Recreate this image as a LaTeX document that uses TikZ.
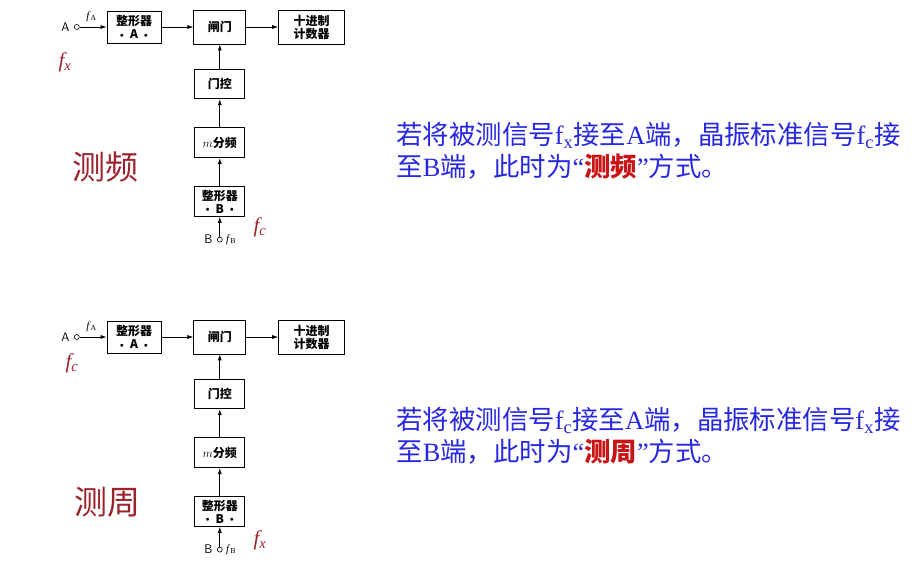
\documentclass[tikz,border=0pt]{standalone}
\usepackage{fontspec}
\setmainfont{Liberation Serif}
\newfontfamily\cjk{Noto Sans CJK SC}
\usetikzlibrary{positioning,arrows.meta}
\definecolor{txtblue}{RGB}{40,40,225}
\definecolor{hotred}{RGB}{200,20,20}
\definecolor{darkred}{RGB}{155,35,45}
\newcommand{\dotsep}{\raisebox{0.25ex}{\fontsize{7}{7}\selectfont$\bullet$}}

\begin{document}
\begin{tikzpicture}[x=1pt, y=-1pt, node distance=28pt,
  every node/.style={font=\cjk\bfseries\fontsize{12}{13}\selectfont},
  block/.style={rectangle, draw, line width=0.8pt, minimum width=50pt, minimum height=30pt, inner sep=1pt, align=center},
  port/.style={circle, draw, line width=0.6pt, minimum size=5pt, inner sep=0pt},
  sig/.style={-{Latex[length=6pt,width=4pt]}, line width=0.7pt},
  mode/.style={font=\cjk\fontsize{33}{33}\selectfont, text=darkred},
  freq/.style={font=\fontsize{21}{21}\selectfont\itshape, text=darkred},
  note/.style={font=\fontsize{26.4}{32}\selectfont, text=txtblue, align=left, anchor=west}]

  \useasboundingbox (0,0) rectangle (918,566);

  \foreach \i/\dy/\fa/\fb/\name/\mx/\my/\ax/\ay/\bx/\by/\ty in
    {1/0/x/c/测频/105/167/65/62/260/227/151,
     2/310/c/x/测周/107/502/72/363/260/540/436}{
    \begin{scope}[shift={(0,\dy)}]
      % main chain
      \node[block, minimum width=54pt, minimum height=32pt] (boxA\i) at (134,27) {整形器\\\dotsep\enspace A\enspace\dotsep};
      \node[block, minimum width=52pt, minimum height=34pt, right=32pt of boxA\i] (gate\i) {闸门};
      \node[block, minimum width=66pt, minimum height=34pt, right=32pt of gate\i] (count\i) {十进制\\计数器};
      % gate control chain
      \node[block, minimum height=29pt, below=25pt of gate\i] (ctrl\i) {门控};
      \node[block, below=of ctrl\i] (div\i) {$m$分频};
      \node[block, below=of div\i] (boxB\i) {整形器\\\dotsep\enspace B\enspace\dotsep};
      % inputs
      \node[port, left=27pt of boxA\i] (inA\i) {};
      \node[port, below=20pt of boxB\i] (inB\i) {};
      \node[font=\sffamily\fontsize{12.5}{12.5}\selectfont, left=1pt of inA\i] (labA\i) {A};
      \node[font=\fontsize{11}{11}\selectfont, above right=0pt and 4pt of inA\i] (fA\i) {\textit{f}\textsubscript{A}};
      \node[font=\sffamily\fontsize{12.5}{12.5}\selectfont, left=1pt of inB\i] (labB\i) {B};
      \node[font=\fontsize{11}{11}\selectfont, right=0pt of inB\i] (fB\i) {\textit{f}\textsubscript{B}};

      \draw[sig] (inA\i) -- (boxA\i);
      \draw[sig] (boxA\i) -- (gate\i);
      \draw[sig] (gate\i) -- (count\i);
      \draw[sig] (ctrl\i) -- (gate\i);
      \draw[sig] (div\i) -- (ctrl\i);
      \draw[sig] (boxB\i) -- (div\i);
      \draw[sig] (inB\i) -- (boxB\i);
    \end{scope}

    % labels
    \node[mode] (mode\i) at (\mx,\my) {\name};
    \node[freq] (fin\i) at (\ax,\ay) {f\textsubscript{\fa}};
    \node[freq] (fref\i) at (\bx,\by) {f\textsubscript{\fb}};
    \node[note] (note\i) at (393,\ty) {{\cjk 若将被测信号}f\textsubscript{\fa}{\cjk 接至}A{\cjk 端，晶振标准信号}f\textsubscript{\fb}{\cjk 接}\\
      {\cjk 至}B{\cjk 端，此时为}“{\cjk\bfseries\color{hotred}\name}”{\cjk 方式。}};
  }
\end{tikzpicture}
\end{document}
